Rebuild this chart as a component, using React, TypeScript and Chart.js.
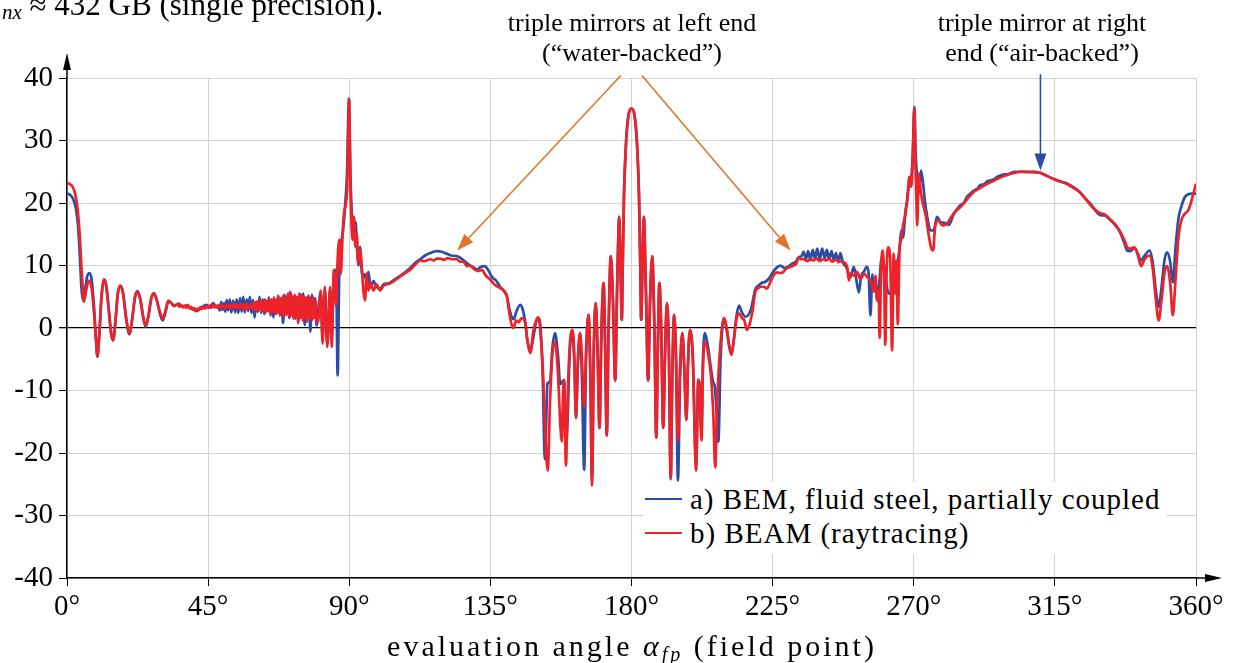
import React, { useEffect, useRef } from "react";
import { Chart, registerables } from "chart.js";

Chart.register(...registerables);

// ---------- data ----------
const xTicks = [0, 45, 90, 135, 180, 225, 270, 315, 360];
const yTicks = [-40, -30, -20, -10, 0, 10, 20, 30, 40];
const seriesLabels = ["a) BEM, fluid steel, partially coupled", "b) BEAM (raytracing)"];
const seriesColors = ["#2C4DA6", "#EE2229"];

// a) BEM, fluid steel, partially coupled  [angle in deg, level]
const bem: [number, number][] = [
  [0,21.5],[1,21.3],[2,20.6],[2.8,19.2],[3.5,16.5],[4.1,11.5],[4.6,6.5],[5.1,4.4],[5.6,5.5],[6.4,8.2],[7.2,8.8],[7.9,7.6],[8.6,3.5],[9.2,-1.5],[9.7,-4.6],[10.3,-1],[11.0,5.0],[11.8,7.8],[12.5,6.8],[13.4,2.5],[14.1,-1.0],[14.7,-2.0],[15.4,0.8],[16.2,5.5],[17.0,6.8],[17.8,5.8],[18.8,1.8],[19.5,-0.5],[20.0,-1.0],[20.8,1.5],[21.7,5.0],[22.5,5.9],[23.4,4.5],[24.4,1.4],[25.1,0.2],[25.9,1.8],[26.9,4.8],[27.7,5.6],[28.6,4.5],[29.7,2.2],[30.5,1.2],[31.4,2.5],[32.3,4.2],[33.2,4.0],[34.2,3.5],[35.5,3.9],[36.8,3.4],[38,3.6],[39.2,3.2],[40.3,3.0],[41.3,2.7],[42.5,3.2],[43.5,3.5],[44.5,3.7],[45.5,3.3],[46.6,4.0],[47.6,3.3],[48.2,3.6],[48.7,2.8],[49.2,4.2],[49.6,2.9],[50.1,4.0],[50.5,2.6],[50.9,4.5],[51.4,2.8],[51.9,4.6],[52.4,2.5],[53.0,4.4],[53.6,2.5],[54.1,4.6],[54.6,2.4],[55.2,4.8],[55.7,2.6],[56.2,5.0],[56.7,2.5],[57.3,4.6],[57.8,2.7],[58.3,5.0],[58.8,2.4],[59.3,4.5],[59.8,1.7],[60.4,4.2],[60.9,2.6],[61.4,5.0],[61.9,2.4],[62.4,4.6],[62.9,2.2],[63.4,4.4],[63.9,2.8],[64.4,4.9],[64.9,2.0],[65.3,4.6],[65.8,1.7],[66.3,4.4],[66.8,2.3],[67.3,5.2],[67.9,2.0],[68.4,4.8],[68.9,0.8],[69.4,5.3],[69.9,2.2],[70.4,5.5],[70.9,1.6],[71.4,5.6],[71.9,2.0],[72.4,5.0],[72.9,1.5],[73.4,4.6],[73.9,1.3],[74.4,5.4],[74.9,1.8],[75.3,5.5],[75.8,0.5],[76.3,4.9],[76.8,2.0],[77.2,5.0],[77.6,-0.6],[78.1,5.3],[78.6,1.6],[79.1,4.8],[79.6,0.4],[80.3,3.8],[80.9,5.8],[81.5,-1.5],[82.2,6.0],[83.0,-2.5],[83.9,6.2],[84.4,-1.8],[85.1,8.6],[85.8,9.3],[86.3,-7.6],[86.8,8.2],[87.4,13.5],[88.0,15.5],[88.6,18.9],[89.3,25],[89.9,36.7],[90.4,24],[90.9,17.5],[91.5,15.6],[92.0,17.0],[92.5,12.5],[93.0,10.0],[93.4,13.0],[94.0,9.0],[94.5,8.2],[95.0,8.6],[95.6,7.2],[96.1,9.0],[96.8,6.5],[97.7,7.5],[98.7,6.6],[99.8,6.3],[101,7.0],[102.9,7.2],[104.5,7.8],[106.1,8.3],[107.8,8.9],[109.4,9.6],[111,10.4],[112.6,11.0],[114.2,11.6],[115.8,12.0],[117.9,12.3],[119.5,12.2],[121,11.9],[122.5,11.6],[124.3,11.5],[125.5,11.2],[126.5,10.8],[128,10.2],[129.6,9.7],[130.8,9.4],[132.0,9.8],[133.2,9.9],[134.5,9.1],[135.6,8.1],[136.8,7.6],[138.1,6.6],[139.2,6.0],[140.3,5.0],[141.0,3.2],[141.8,1.8],[142.5,1.4],[143.2,2.5],[144.5,3.7],[145.3,3.0],[146.1,1.0],[146.8,-2.0],[147.7,-3.8],[148.7,-1.5],[149.6,1.0],[150.3,1.6],[151.0,0],[151.6,-6],[152.4,-21.0],[153.2,-8.9],[154.0,-8.6],[154.8,-3],[155.6,-0.8],[156.5,-4],[157.3,-9],[157.8,-8.6],[158.5,-8.4],[159.1,-19],[159.6,-15],[160.3,-4],[161.2,-0.5],[161.8,-6],[162.3,-14.4],[162.9,-6],[163.6,-0.8],[164.2,-8],[164.9,-22.7],[165.5,-5],[166.3,2.1],[166.9,-8],[167.4,-24.0],[168.0,-3],[168.6,4.0],[169.2,-4],[169.8,-16.0],[170.4,-1],[171.1,7.2],[171.6,-3],[172.1,-17.2],[172.7,0],[173.4,11.5],[174.1,4],[174.8,-8.4],[175.4,6],[176.1,17.8],[176.5,10],[176.9,1.3],[177.2,10],[177.6,21],[178.3,30],[179.1,34.2],[180.0,35.1],[180.9,34.2],[181.7,30],[182.4,21],[182.8,10],[183.1,1.3],[183.5,10],[183.9,17.8],[184.6,6],[185.3,-8.4],[185.9,4],[186.6,11.5],[187.3,0],[187.9,-17.4],[188.4,-3],[188.9,7.2],[189.5,-1],[190.1,-15.8],[190.7,-4],[191.3,4.0],[191.9,-3],[192.5,-24.2],[193.0,-8],[193.6,2.1],[194.2,-5],[194.8,-24.4],[195.5,-8],[196.2,-0.8],[196.8,-6],[197.5,-14.7],[198.0,-6],[198.6,-0.5],[199.5,-4],[200.6,-21.5],[201.3,-8.3],[201.8,-10],[202.3,-17],[202.8,-5],[203.4,-0.8],[204.4,-3],[205.2,-6],[206.0,-8.6],[206.6,-9.5],[207.3,-15],[207.7,-18.2],[208.4,-5],[209.5,1.6],[210.4,-0.5],[211.2,-3],[211.9,-4.2],[212.6,-2],[213.5,2.0],[214.3,3.6],[215.2,2.5],[216.3,1.8],[217.3,2.1],[218.2,3.2],[219.5,6.2],[220.5,6.8],[221.5,7.2],[222.7,7.4],[223.8,7.9],[225.2,9.0],[226.4,9.7],[227.5,10.0],[228.8,9.6],[230.0,9.8],[231.2,10.3],[232.4,10.6],[233.3,11.3],[234.2,11.5],[234.9,12.2],[235.6,11.0],[236.3,12.3],[237.0,10.9],[237.8,12.5],[238.5,11.0],[239.2,12.7],[240.0,11.0],[240.8,12.7],[241.6,11.2],[242.3,12.5],[243.0,11.0],[243.8,12.3],[244.5,10.8],[245.2,12.0],[246.0,10.5],[246.6,12.0],[247.4,10.5],[248.5,9.7],[249.3,8.6],[249.8,8.1],[250.9,9.8],[251.6,8.0],[252.5,5.7],[253.2,8.2],[254.1,9.0],[255.0,9.8],[255.6,8.8],[256.2,2.0],[256.8,8.6],[257.3,6.0],[257.9,7.5],[258.3,4.4],[259.0,7.2],[259.8,11.3],[260.4,10.5],[261.3,7.0],[262.0,5.5],[262.6,5.6],[263.3,8.0],[264.1,7.2],[264.7,9.8],[265.5,12.8],[266.0,15.6],[266.6,14.5],[267.3,18.5],[267.9,20.4],[268.5,23.0],[269.2,24.0],[269.7,28],[270.2,35.4],[270.6,28],[271.0,24.7],[271.5,22.6],[272.0,23.5],[272.3,25.2],[273.0,23.0],[273.5,20.5],[274.3,17.8],[275.3,15.6],[276.0,15.6],[276.6,16.0],[277.4,17.8],[278.5,17.0],[280.0,16.8],[281.2,16.5],[282.7,18.2],[283.8,19.0],[284.8,19.6],[285.9,20.0],[287,21.0],[288,21.5],[289.2,22.0],[290.3,22.3],[291.3,22.9],[292.4,23.0],[293.5,23.5],[294.5,23.6],[295.6,23.8],[296.7,24.2],[297.7,24.4],[298.8,24.6],[299.8,24.6],[301,24.8],[302,25.0],[304.1,25.0],[306.2,24.95],[308.4,24.95],[310.5,24.8],[312.6,24.3],[314.8,23.8],[317,23.4],[319,23.1],[321,22.5],[322.8,21.8],[324.4,20.9],[326.5,19.8],[328.6,18.4],[329.8,18.0],[330.8,18.0],[332.4,17.4],[334.0,16.6],[335.6,15.5],[337.2,13.5],[338,12.4],[339,12.3],[340.4,12.8],[341.5,11.8],[342.5,10.8],[343.5,11.5],[345.2,12.4],[346.2,10.5],[347.2,6],[348.1,3.4],[349.0,6.5],[350,11],[350.8,12.1],[351.8,10.5],[352.6,7.3],[353.5,13],[354.4,17.5],[355.3,19.4],[356.5,21.0],[357.5,21.4],[358.8,21.5],[360,21.5]
];

// b) BEAM (raytracing)  [angle in deg, level]
const beam: [number, number][] = [
  [0,23.2],[1,23.0],[2,22.4],[2.8,21.0],[3.5,18.5],[4.1,14.5],[4.7,9],[5.4,4.2],[6.2,6.3],[7.0,7.6],[7.8,6.5],[8.6,2.5],[9.2,-1.5],[9.7,-4.5],[10.3,-1],[11.0,5.0],[11.8,7.8],[12.5,6.8],[13.4,2.5],[14.1,-1.0],[14.7,-1.9],[15.4,0.8],[16.2,5.5],[17.0,6.7],[17.8,5.8],[18.8,1.8],[19.5,-0.3],[20.0,-0.9],[20.8,1.5],[21.7,5.0],[22.5,5.8],[23.4,4.5],[24.4,1.5],[25.1,0.4],[25.9,1.8],[26.9,4.8],[27.7,5.5],[28.6,4.5],[29.7,2.4],[30.6,1.5],[31.4,2.8],[32.3,4.4],[33.2,4.0],[34.2,3.6],[35.3,3.8],[35.8,3.4],[36.4,3.7],[36.9,3.3],[37.5,3.6],[38.0,3.2],[38.6,3.7],[39.1,3.1],[39.6,3.4],[40.1,2.9],[40.6,3.2],[41.1,2.8],[41.5,3.1],[42.0,2.8],[42.5,3.3],[43.0,3.0],[43.5,3.4],[44.0,3.1],[44.5,3.5],[45.0,3.2],[45.5,3.6],[46.0,3.2],[46.6,3.7],[47.1,3.3],[47.6,3.6],[48.2,3.2],[48.7,3.7],[49.2,3.2],[49.8,3.6],[50.3,3.1],[50.9,3.8],[51.4,3.3],[52.0,3.7],[52.5,3.1],[53.0,3.9],[53.6,3.2],[54.1,3.8],[54.6,3.1],[55.2,3.9],[55.7,3.2],[56.2,3.8],[56.7,3.0],[57.2,3.9],[57.7,3.1],[58.3,3.4],[58.7,3.9],[59.0,3.1],[59.4,4.0],[59.8,2.9],[60.1,4.2],[60.5,2.7],[60.9,4.3],[61.2,3.0],[61.6,4.5],[62.0,2.6],[62.3,4.2],[62.7,2.8],[63.1,4.6],[63.4,2.5],[63.8,4.4],[64.2,2.7],[64.5,4.7],[64.9,2.3],[65.3,4.5],[65.6,2.6],[66.0,4.9],[66.4,2.2],[66.7,4.6],[67.1,2.5],[67.5,5.1],[67.8,2.0],[68.2,4.8],[68.6,2.3],[68.9,5.2],[69.3,1.8],[69.7,4.9],[70.0,2.1],[70.4,5.4],[70.8,1.9],[71.1,5.8],[71.5,2.0],[71.9,5.0],[72.2,1.5],[72.6,5.3],[73.0,1.8],[73.3,5.0],[73.7,0.8],[74.1,5.5],[74.4,1.6],[74.8,5.2],[75.2,1.2],[75.5,5.0],[75.9,1.6],[76.3,4.8],[76.6,1.0],[77.0,5.2],[77.4,1.6],[77.7,4.6],[78.1,1.3],[78.5,4.9],[78.8,1.6],[79.2,4.4],[79.6,1.0],[80.1,1.1],[80.9,6.0],[81.5,-2.5],[82.2,6.6],[83.0,-3.0],[83.9,6.6],[84.4,-3.0],[85.1,9.3],[85.8,3.6],[86.2,9.8],[86.8,14.1],[87.3,8.7],[87.9,15.1],[88.3,18.3],[88.9,19.9],[89.4,23.1],[89.7,32],[89.95,36.5],[90.2,28.4],[90.5,20.4],[91.0,14.1],[91.5,17.8],[91.9,13.0],[92.4,15.1],[92.9,10.3],[93.4,12.5],[94.0,9.8],[94.5,6.0],[95.0,4.4],[95.6,8.7],[96.1,6.0],[96.8,7.2],[97.7,6.0],[98.7,7.0],[99.8,6.0],[101.0,6.8],[102.9,7.1],[104.5,7.6],[106.1,8.2],[107.8,8.8],[109.4,9.3],[111,10.1],[112.6,10.8],[114.2,10.7],[115.8,11.0],[117.0,10.8],[117.9,11.1],[119.0,11.1],[120.2,10.9],[121.5,11.2],[122.5,11.0],[124.3,11.0],[125.3,10.6],[126.4,10.6],[127.5,9.9],[128.5,10.0],[129.6,9.5],[131,9.1],[132.3,9.3],[133.5,8.4],[134.9,7.8],[136,7.1],[137,6.7],[138.1,6.4],[139.2,6.0],[140.3,5.0],[141.0,2.5],[141.8,0.5],[142.4,0.0],[143.2,1.2],[144.0,0.9],[145.0,1.6],[146.1,0.8],[146.8,-2.0],[147.7,-4.0],[148.7,-0.5],[149.6,1.2],[150.3,1.7],[151.0,-1],[151.9,-8.5],[152.6,-18],[153.3,-22.8],[154.0,-12],[154.8,-4],[155.6,-2.2],[156.4,-6],[157.8,-18.2],[158.2,-10],[158.5,-8.3],[159.1,-22.0],[159.6,-12],[160.3,-3],[161.2,-0.3],[161.8,-5],[162.3,-14.4],[162.9,-5],[163.6,-0.8],[164.2,-5],[164.9,-12.7],[165.5,-4],[166.3,2.1],[166.9,-8],[167.4,-25.2],[168.0,-3],[168.6,4.0],[169.2,-4],[169.8,-16.0],[170.4,-1],[171.1,7.2],[171.6,-3],[172.1,-17.2],[172.7,0],[173.4,11.5],[174.1,4],[174.8,-8.4],[175.4,6],[176.1,17.8],[176.5,10],[176.9,1.3],[177.2,10],[177.6,21],[178.3,30],[179.1,34.2],[180.0,35.1],[180.9,34.2],[181.7,30],[182.4,21],[182.8,10],[183.1,1.3],[183.5,10],[183.9,17.8],[184.6,6],[185.3,-8.4],[185.9,4],[186.6,11.5],[187.3,0],[187.9,-17.6],[188.4,-3],[188.9,7.2],[189.5,-1],[190.1,-16.0],[190.7,-4],[191.3,4.0],[191.9,-3],[192.5,-24.0],[193.0,-8],[193.6,2.1],[194.2,-5],[194.8,-18.0],[195.5,-6],[196.2,-0.8],[196.8,-6],[197.5,-14.7],[198.0,-6],[198.6,-0.3],[199.5,-4],[200.6,-22.8],[201.3,-8.3],[201.8,-10],[202.3,-18],[202.8,-6],[203.4,-2.2],[204.4,-4],[205.4,-8],[206.1,-14],[206.7,-22.3],[207.3,-12],[208.3,-3],[209.5,1.6],[210.4,0],[211.2,-3],[211.9,-4.3],[212.6,-2],[213.5,1.5],[214.3,2.3],[215.2,1.6],[216.0,1.2],[216.8,-0.3],[217.6,0.5],[218.5,2.5],[219.5,5.8],[220.5,6.4],[221.1,6.6],[222.2,6.6],[223.2,6.3],[223.8,6.8],[224.8,8.0],[226.4,8.9],[227.5,8.8],[228.5,9.0],[229.1,9.4],[230.7,9.8],[231.7,10.0],[232.5,10.3],[233.3,11.2],[234.2,11.0],[235,11.0],[236,10.7],[237,11.0],[238,10.8],[239,11.1],[240,10.7],[241,11.0],[242,10.8],[243,11.1],[244,10.6],[245,10.9],[246,10.7],[247.0,10.6],[247.7,10.5],[248.8,9.7],[249.3,7.6],[249.8,8.7],[250.9,8.4],[251.9,9.0],[253.0,7.8],[254.1,8.7],[255.1,8.2],[256.2,7.6],[257.3,5.8],[257.8,8.4],[258.3,4.4],[258.8,6.0],[259.1,-1.6],[259.6,9.5],[260.1,12.4],[260.6,7],[260.9,-2.7],[261.4,10],[261.9,12.9],[262.5,10.8],[263.1,-3.6],[263.6,11.9],[264.1,5.5],[264.5,10.8],[264.9,0.6],[265.5,12.9],[266.0,14.1],[266.6,16.5],[267.3,18.0],[267.9,20.4],[268.6,24.2],[269.2,22.6],[269.7,27.5],[270.2,35.1],[270.5,26.8],[270.8,21.5],[271.1,16.4],[271.6,24.7],[272.3,21.5],[273.2,19.3],[273.9,17.8],[274.7,15.1],[275.5,12.9],[276.2,12.4],[276.8,16.2],[277.8,17.2],[279.2,16.4],[280.6,16.7],[282.0,17.8],[283.2,18.6],[284.8,19.3],[285.9,19.9],[287.5,20.9],[289.2,21.8],[290.8,22.3],[292.4,22.8],[294,23.2],[295.6,23.6],[297.7,24.1],[299.8,24.5],[302,24.8],[304.1,24.97],[306.2,25.0],[308.4,24.97],[310.5,24.8],[312.6,24.3],[314.8,23.8],[317,23.4],[319,23.0],[321,22.4],[322.8,21.8],[324.4,20.9],[326.5,19.6],[328.6,18.6],[329.8,18.3],[330.8,18.2],[332.4,17.5],[334.0,16.7],[335.6,15.6],[337.2,14.0],[338.0,13.0],[338.8,12.7],[340.4,12.9],[341.5,11.6],[342.5,9.9],[343.6,11.0],[345.2,11.6],[346.2,9.5],[347.2,4.5],[348.1,1.2],[349.0,4.5],[350,9.0],[350.8,9.9],[351.8,7.0],[352.6,2.0],[353.5,8],[354.4,14.5],[355.3,17.2],[356.5,18.3],[357.5,18.8],[358.8,20.8],[360,23.1]
];

// annotation arrows in data coordinates: [fromAngle, fromLevel, toAngle, toLevel]
const orangeArrows: [number, number, number, number][] = [
  [176.6, 40.4, 124.4, 12.4],
  [183.3, 40.4, 230.7, 12.4],
];
const blueArrows: [number, number, number, number][] = [
  [310.4, 40.6, 310.4, 25.2],
];

const FONT = "'Liberation Serif', 'Times New Roman', serif";

function arrowHead(ctx: CanvasRenderingContext2D, tx: number, ty: number, fx: number, fy: number, len: number, half: number) {
  const dx = tx - fx, dy = ty - fy;
  const d = Math.hypot(dx, dy) || 1;
  const ux = dx / d, uy = dy / d;
  const bx = tx - ux * len, by = ty - uy * len;
  ctx.beginPath();
  ctx.moveTo(tx, ty);
  ctx.lineTo(bx - uy * half, by + ux * half);
  ctx.lineTo(bx + uy * half, by - ux * half);
  ctx.closePath();
  ctx.fill();
}

const decorPlugin = {
  id: "decor",
  afterDraw(chart: any) {
    const { ctx, chartArea: a, scales } = chart;
    const x = scales.x, y = scales.y;
    ctx.save();
    ctx.strokeStyle = "#000";
    ctx.fillStyle = "#000";
    ctx.lineWidth = 1.5;
    ctx.beginPath();
    ctx.moveTo(a.left, a.top);
    ctx.lineTo(a.left, a.top - 10);
    ctx.stroke();
    arrowHead(ctx, a.left, a.top - 25, a.left, a.top, 17, 4);
    ctx.beginPath();
    ctx.moveTo(a.right, a.bottom);
    ctx.lineTo(a.right + 12, a.bottom);
    ctx.stroke();
    arrowHead(ctx, a.right + 26, a.bottom, a.right, a.bottom, 17, 4);

    const drawArrows = (list: [number, number, number, number][], color: string) => {
      ctx.strokeStyle = color;
      ctx.fillStyle = color;
      ctx.lineWidth = 1.6;
      for (const [fa, fl, ta, tl] of list) {
        const fx = x.getPixelForValue(fa), fy = y.getPixelForValue(fl);
        const tx = x.getPixelForValue(ta), ty = y.getPixelForValue(tl);
        const d = Math.hypot(tx - fx, ty - fy);
        const ex = tx - ((tx - fx) / d) * 12, ey = ty - ((ty - fy) / d) * 12;
        ctx.beginPath();
        ctx.moveTo(fx, fy);
        ctx.lineTo(ex, ey);
        ctx.stroke();
        arrowHead(ctx, tx, ty, fx, fy, 17, 6);
      }
    };
    drawArrows(orangeArrows, "#E0762B");
    drawArrows(blueArrows, "#2C4DA6");
    ctx.restore();
  },
};

export default function App() {
  const ref = useRef<HTMLCanvasElement>(null);

  useEffect(() => {
    document.body.style.margin = "0";
    const canvas = ref.current!;
    const chart = new Chart(canvas, {
      type: "line",
      data: {
        datasets: [
          {
            label: seriesLabels[0],
            data: bem.map(([a, v]) => ({ x: a, y: v })),
            borderColor: seriesColors[0],
            borderWidth: 2.7,
            pointRadius: 0,
            cubicInterpolationMode: "monotone",
            order: 1,
          },
          {
            label: seriesLabels[1],
            data: beam.map(([a, v]) => ({ x: a, y: v })),
            borderColor: seriesColors[1],
            borderWidth: 2.7,
            pointRadius: 0,
            cubicInterpolationMode: "monotone",
            order: 0,
          },
        ],
      },
      options: {
        animation: false,
        responsive: false,
        devicePixelRatio: 1,
        layout: { padding: { left: 0, right: 42, top: 78, bottom: 35 } },
        plugins: { legend: { display: false }, tooltip: { enabled: false } },
        scales: {
          x: {
            type: "linear",
            min: 0,
            max: 360,
            afterBuildTicks: (axis: any) => {
              axis.ticks = xTicks.map((v) => ({ value: v }));
            },
            afterFit: (s: any) => {
              s.height = 50;
            },
            ticks: {
              callback: (v: any) => v + "°",
              font: { family: FONT, size: 29 },
              color: "#000",
              padding: 4,
              maxRotation: 0,
              autoSkip: false,
            },
            grid: { color: "#d2d2d2", tickColor: "#000", tickLength: 8, lineWidth: 1 },
            border: { color: "#000", width: 1.5 },
          },
          y: {
            type: "linear",
            min: -40,
            max: 40,
            afterBuildTicks: (axis: any) => {
              axis.ticks = yTicks.map((v) => ({ value: v }));
            },
            afterFit: (s: any) => {
              s.width = 67;
            },
            ticks: {
              callback: (v: any) => String(v),
              font: { family: FONT, size: 29 },
              color: "#000",
              padding: 6,
              autoSkip: false,
            },
            grid: {
              color: (c: any) => (c.tick && c.tick.value === 0 ? "#000" : "#d2d2d2"),
              tickColor: "#000",
              tickLength: 8,
              lineWidth: (c: any) => (c.tick && c.tick.value === 0 ? 1.3 : 1),
            },
            border: { color: "#000", width: 1.5 },
          },
        },
      },
      plugins: [decorPlugin],
    } as any);
    return () => chart.destroy();
  }, []);

  const abs = (s: React.CSSProperties): React.CSSProperties => ({ position: "absolute", whiteSpace: "nowrap", fontFamily: FONT, color: "#000", ...s });

  return (
    <div style={{ position: "relative", width: 1238, height: 663, overflow: "hidden", background: "#fff" }}>
      <canvas ref={ref} width={1238} height={663} style={{ position: "absolute", left: 0, top: 0, width: 1238, height: 663 }} />
      <div style={abs({ left: 2, top: -11, fontSize: 31, lineHeight: "31px" })}>
        <i style={{ fontSize: 21, position: "relative", top: 4 }}>nx</i> ≈ 432 GB (single precision).
      </div>
      <div style={abs({ left: 632, top: 8, transform: "translateX(-50%)", fontSize: 26, lineHeight: "30px", textAlign: "center" })}>
        triple mirrors at left end
        <br />
        (“water-backed”)
      </div>
      <div style={abs({ left: 1042, top: 8, transform: "translateX(-50%)", fontSize: 26, lineHeight: "30px", textAlign: "center" })}>
        triple mirror at right
        <br />
        end (“air-backed”)
      </div>
      <div style={abs({ left: 643, top: 482, width: 523, height: 72, background: "#fff" })}>
        {seriesLabels.map((lab, i) => (
          <div key={lab} style={{ position: "absolute", left: 0, top: i * 34, height: 34, display: "flex", alignItems: "center" }}>
            <span style={{ display: "inline-block", width: 37, height: 2.5, background: seriesColors[i], marginLeft: 2, marginRight: 8 }} />
            <span style={{ fontSize: 29, letterSpacing: "1px", lineHeight: "34px" }}>{lab}</span>
          </div>
        ))}
      </div>
      <div style={abs({ left: 632, top: 631, transform: "translateX(-50%)", fontSize: 30, lineHeight: "30px", letterSpacing: "3px" })}>
        evaluation angle <i>α</i>
        <sub style={{ fontSize: 20, fontStyle: "italic", verticalAlign: "-5px" }}>fp</sub> (field point)
      </div>
    </div>
  );
}
